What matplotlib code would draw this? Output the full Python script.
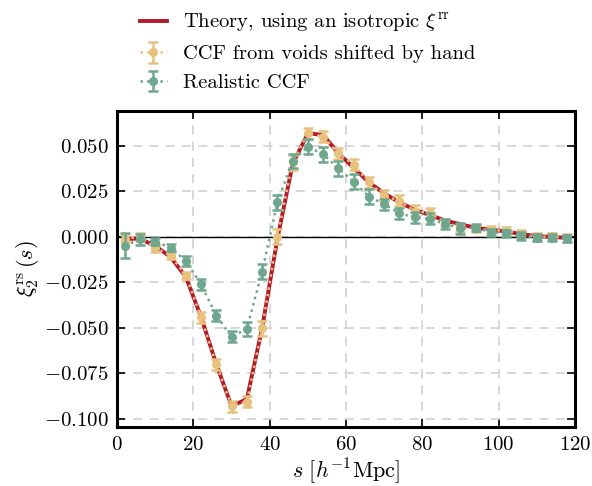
import numpy as np
import matplotlib
matplotlib.use("Agg")
import matplotlib.pyplot as plt

s = [2, 6, 10, 14, 18, 22, 26, 30, 34, 38, 42, 46, 50, 54, 58, 62, 66, 70, 74, 78,
     82, 86, 90, 94, 98, 102, 106, 110, 114, 118]

theory = [-0.001, -0.001, -0.005, -0.011, -0.022, -0.044, -0.070, -0.093, -0.089, -0.050,
          -0.001, 0.040, 0.057, 0.056, 0.046, 0.038, 0.030, 0.024, 0.019, 0.015,
          0.012, 0.009, 0.007, 0.005, 0.004, 0.003, 0.0015, 0.0005, 0.000, -0.0005]

shifted = [-0.001, 0.000, -0.006, -0.0103, -0.0213, -0.0441, -0.070, -0.0929, -0.0905, -0.0502,
           0.0002, 0.041, 0.057, 0.0551, 0.046, 0.0396, 0.030, 0.0227, 0.0198, 0.0143,
           0.013, 0.0081, 0.0048, 0.0045, 0.0038, 0.0033, 0.0016, 0.0000, 0.0003, -0.0005]
shifted_err = [0.002, 0.002, 0.002, 0.002, 0.002, 0.003, 0.003, 0.003, 0.003, 0.004,
               0.004, 0.004, 0.003, 0.003, 0.003, 0.003, 0.003, 0.003, 0.003, 0.003,
               0.003, 0.002, 0.002, 0.002, 0.002, 0.002, 0.002, 0.002, 0.002, 0.002]

realistic = [-0.0048, -0.0012, -0.0026, -0.0059, -0.0132, -0.026, -0.0432, -0.0548, -0.0505, -0.019,
             0.019, 0.0418, 0.0496, 0.0454, 0.0377, 0.0304, 0.0222, 0.018, 0.013, 0.0108,
             0.0099, 0.0071, 0.0048, 0.0051, 0.0026, 0.002, 0.0005, -0.0004, -0.0004, -0.0008]
realistic_err = [0.007, 0.003, 0.002, 0.002, 0.003, 0.003, 0.003, 0.003, 0.004, 0.004,
                 0.004, 0.004, 0.004, 0.004, 0.004, 0.004, 0.004, 0.003, 0.003, 0.003,
                 0.003, 0.003, 0.003, 0.002, 0.002, 0.002, 0.002, 0.002, 0.002, 0.002]

xticks = [0, 20, 40, 60, 80, 100, 120]
yticks = [-0.100, -0.075, -0.050, -0.025, 0.000, 0.025, 0.050]

plt.rcParams['font.family'] = 'serif'
plt.rcParams['font.serif'] = ['cmr10']
plt.rcParams['mathtext.fontset'] = 'cm'
plt.rcParams['axes.formatter.use_mathtext'] = True
plt.rcParams['axes.unicode_minus'] = True

red = '#b3192c'
yellow = '#e8c17f'
green = '#6ea68e'

fig = plt.figure(figsize=(5.92, 4.86), dpi=100)
ax = fig.add_axes([0.198, 0.121, 0.773, 0.651])

ax.axhline(0, color='black', lw=1.0, zorder=1)
ax.plot(s, theory, color=red, lw=2.8, zorder=3,
        label=r'Theory, using an isotropic $\xi^{\rm rr}$')
ax.errorbar(s, shifted, yerr=shifted_err, color=yellow, ls=':', lw=1.8, marker='o', ms=5.5,
            capsize=3.5, elinewidth=1.8, capthick=1.8, zorder=4,
            label='CCF from voids shifted by hand')
ax.errorbar(s, realistic, yerr=realistic_err, color=green, ls=':', lw=1.8, marker='o', ms=5.5,
            capsize=3.5, elinewidth=1.8, capthick=1.8, zorder=5,
            label='Realistic CCF')

ax.set_xlim(0, 120)
ax.set_ylim(-0.1045, 0.0693)
ax.set_xticks(xticks)
ax.set_yticks(yticks)
ax.grid(True, ls='--', color='#d4d4d4', lw=1.3, dashes=(5, 4))
ax.set_axisbelow(True)
ax.tick_params(direction='in', top=True, right=True, length=6, width=1.2, labelsize=15, pad=6)
for sp in ax.spines.values():
    sp.set_linewidth(2.2)

ax.set_xlabel(r'$s\ [h^{-1}{\rm Mpc}]$', fontsize=16, labelpad=2)
ax.set_ylabel(r'$\xi_2^{\rm rs}\,(s)$', fontsize=16, labelpad=2)

fig.legend(loc='upper left', bbox_to_anchor=(0.205, 1.015), frameon=False, fontsize=14.8,
           handlelength=1.3, labelspacing=0.5, handletextpad=0.8)

fig.savefig('out.png', dpi=100)
